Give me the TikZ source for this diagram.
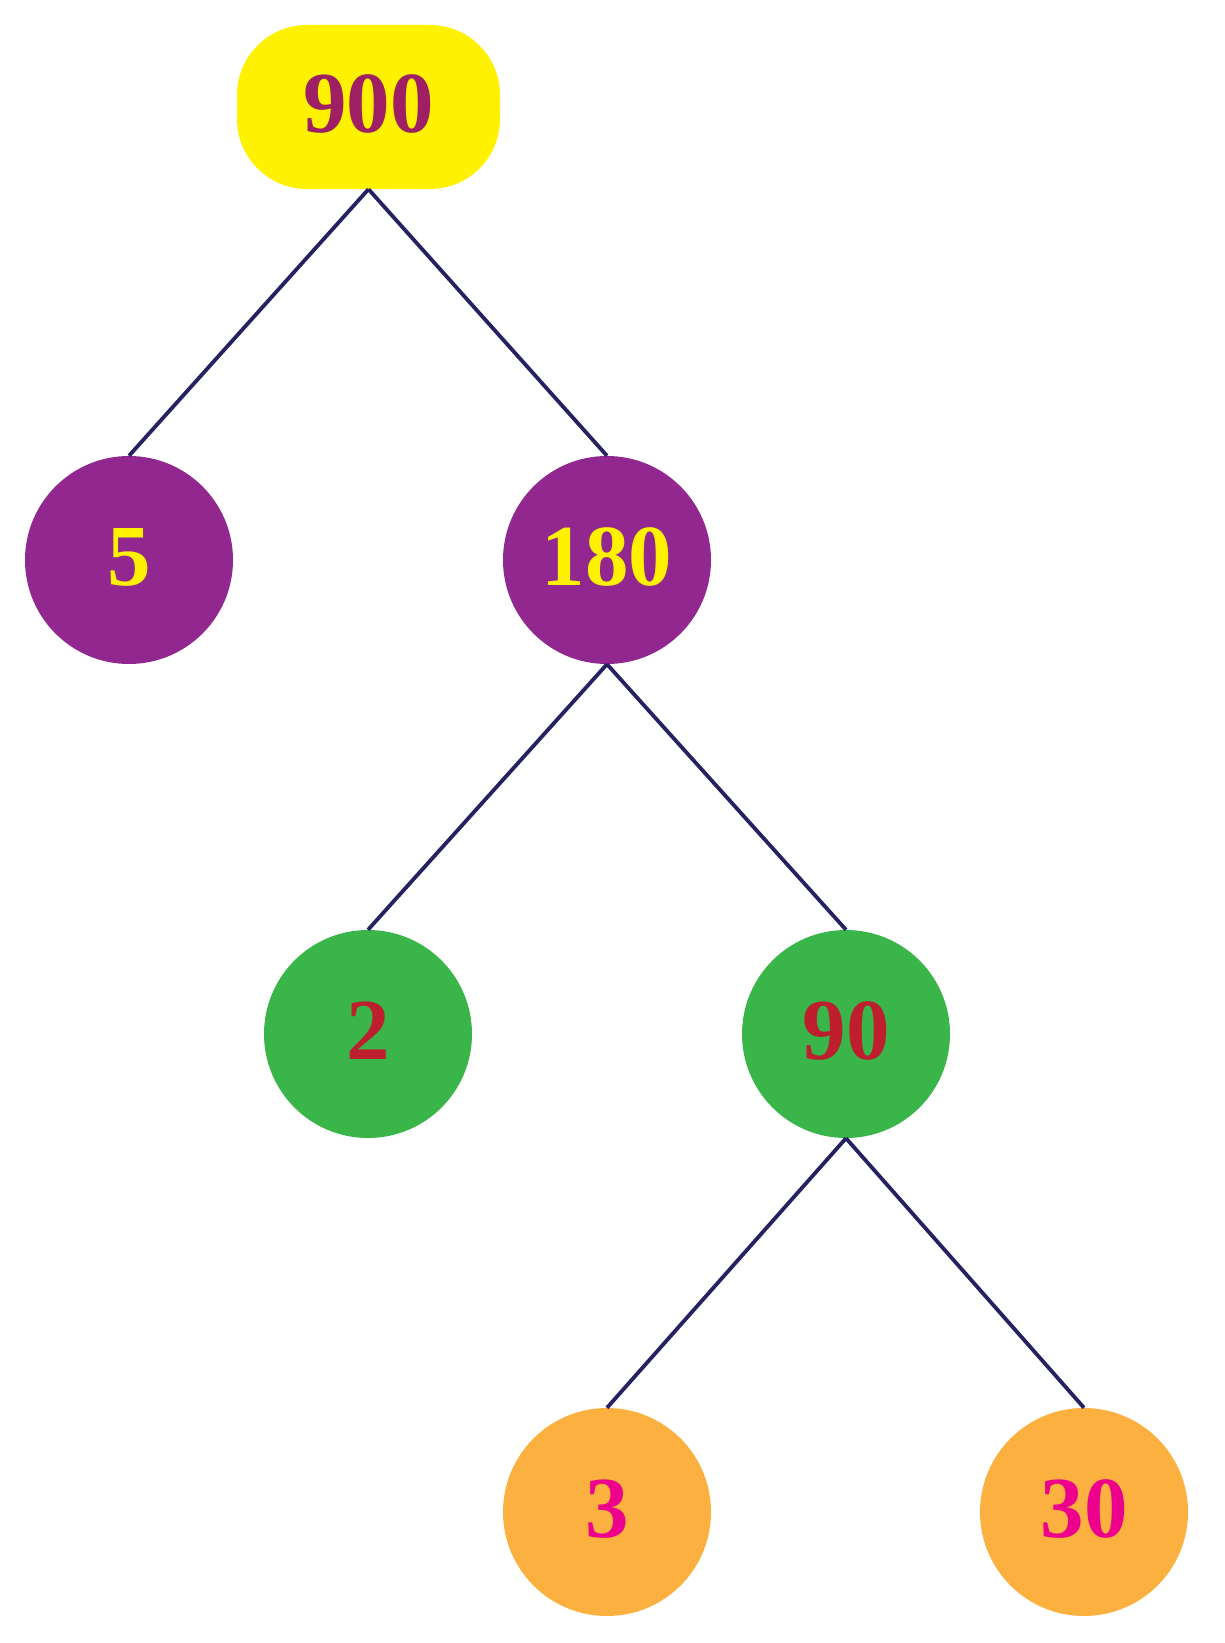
\documentclass[tikz,border=0pt]{standalone}
\usepackage{fontspec}
\setmainfont{Liberation Serif}[BoldFont={Liberation Serif Bold}]
\definecolor{cyel}{HTML}{FFF200}
\definecolor{cpur}{HTML}{92278F}
\definecolor{cmag}{HTML}{9E1F63}
\definecolor{cgrn}{HTML}{39B54A}
\definecolor{cred}{HTML}{BE1E2D}
\definecolor{corg}{HTML}{FBB040}
\definecolor{cpnk}{HTML}{EC008C}
\definecolor{cline}{HTML}{262262}
\begin{document}
\begin{tikzpicture}[x=1pt,y=-1pt,
  num/.style={font=\fontsize{87}{87}\selectfont\bfseries,text depth=6pt},
  ball/.style={circle,minimum size=208pt,inner sep=0pt,num},
  link/.style={draw=cline,line width=3.8pt}]
\useasboundingbox (0,0) rectangle (1225,1643);
\node[num,fill=cyel,text=cmag,rounded corners=70pt,minimum width=263pt,minimum height=164pt,inner sep=0pt] (root) at (368.5,107) {900};
\node[ball,fill=cpur,text=cyel] (n5) at (129,560) {5};
\node[ball,fill=cpur,text=cyel] (n180) at (607,560) {180};
\node[ball,fill=cgrn,text=cred] (n2) at (368,1034) {2};
\node[ball,fill=cgrn,text=cred] (n90) at (846,1034) {90};
\node[ball,fill=corg,text=cpnk] (n3) at (607,1512) {3};
\node[ball,fill=corg,text=cpnk] (n30) at (1084,1512) {30};
\draw[link] (root.south) -- (n5.north);
\draw[link] (root.south) -- (n180.north);
\draw[link] (n180.south) -- (n2.north);
\draw[link] (n180.south) -- (n90.north);
\draw[link] (n90.south) -- (n3.north);
\draw[link] (n90.south) -- (n30.north);
\end{tikzpicture}
\end{document}
